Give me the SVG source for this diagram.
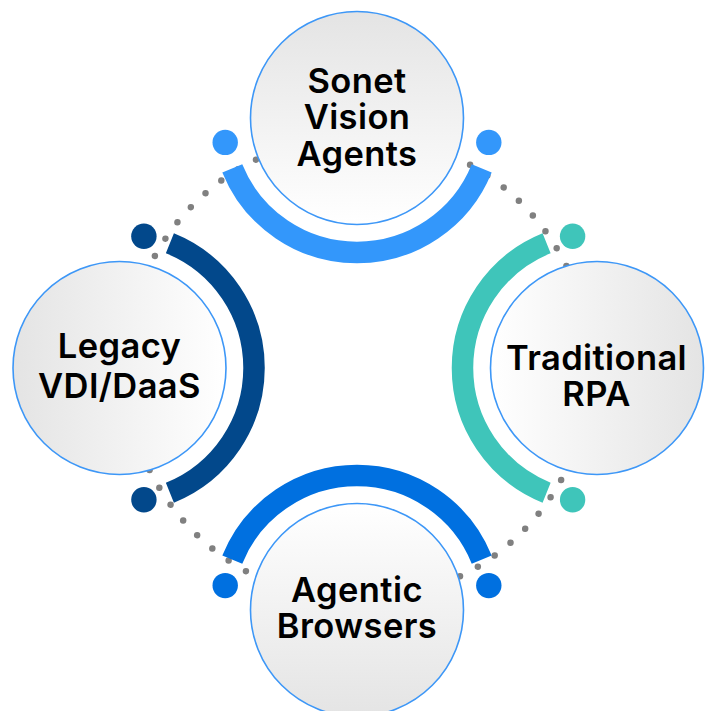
<svg xmlns="http://www.w3.org/2000/svg" width="711" height="711" viewBox="0 0 711 711">
  <defs>
    <!-- node fills: grey on the outer side, fading to white towards the middle -->
    <linearGradient id="fillTop" x1="0" y1="0" x2="0" y2="1">
      <stop offset="0" stop-color="#e4e4e4"/>
      <stop offset="1" stop-color="#ffffff"/>
    </linearGradient>
    <linearGradient id="fillBottom" x1="0" y1="1" x2="0" y2="0">
      <stop offset="0" stop-color="#e4e4e4"/>
      <stop offset="1" stop-color="#ffffff"/>
    </linearGradient>
    <linearGradient id="fillLeft" x1="0" y1="0" x2="1" y2="0">
      <stop offset="0" stop-color="#e4e4e4"/>
      <stop offset="1" stop-color="#ffffff"/>
    </linearGradient>
    <linearGradient id="fillRight" x1="1" y1="0" x2="0" y2="0">
      <stop offset="0" stop-color="#e4e4e4"/>
      <stop offset="1" stop-color="#ffffff"/>
    </linearGradient>
    <style>
      .node-circle { stroke: #3d97f7; stroke-width: 1.6; }
      .ring { fill: none; stroke-width: 21.5; stroke-linecap: butt; }
      .dotted { fill: none; stroke: #808080; stroke-width: 6.5; stroke-linecap: round; stroke-dasharray: 0 20; }
      .label { font-family: Inter, "Noto Sans", "Liberation Sans", sans-serif; font-weight: 600; font-size: 34.5px; letter-spacing: 0.4px; fill: #000; text-anchor: middle; }
      .c-sky { stroke: #3397fb; } .f-sky { fill: #3397fb; }
      .c-teal { stroke: #3fc5ba; } .f-teal { fill: #3fc5ba; }
      .c-navy { stroke: #02488b; } .f-navy { fill: #02488b; }
      .c-blue { stroke: #0070e0; } .f-blue { fill: #0070e0; }
    </style>
  </defs>

  <rect width="711" height="711" fill="#ffffff"/>

  <!-- dotted ring linking the four nodes -->
  <g id="connectors">
    <circle class="dotted" cx="358" cy="368" r="232" pathLength="1440" transform="rotate(3.9 358 368)"/>
  </g>

  <g id="node-sonet">
    <circle class="node-circle" cx="357" cy="118" r="106.5" fill="url(#fillTop)"/>
    <path class="ring c-sky" d="M481.71 168.39 A134.5 134.5 0 0 1 232.29 168.39"/>
    <circle class="f-sky" cx="488.8" cy="142.4" r="12.7"/>
    <circle class="f-sky" cx="225.2" cy="142.4" r="12.7"/>
    <text class="label" x="357" y="92.5">Sonet</text>
    <text class="label" x="357" y="129">Vision</text>
    <text class="label" x="357" y="165.5">Agents</text>
  </g>

  <g id="node-rpa">
    <circle class="node-circle" cx="597" cy="368" r="106.5" fill="url(#fillRight)"/>
    <path class="ring c-teal" d="M546.61 492.71 A134.5 134.5 0 0 1 546.61 243.29"/>
    <circle class="f-teal" cx="572.6" cy="499.8" r="12.7"/>
    <circle class="f-teal" cx="572.6" cy="236.2" r="12.7"/>
    <text class="label" x="596.5" y="370">Traditional</text>
    <text class="label" x="596.5" y="406">RPA</text>
  </g>

  <g id="node-legacy">
    <circle class="node-circle" cx="119.5" cy="368" r="106.5" fill="url(#fillLeft)"/>
    <path class="ring c-navy" d="M169.89 243.29 A134.5 134.5 0 0 1 169.89 492.71"/>
    <circle class="f-navy" cx="143.9" cy="236.2" r="12.7"/>
    <circle class="f-navy" cx="143.9" cy="499.8" r="12.7"/>
    <text class="label" x="119.5" y="358.3">Legacy</text>
    <text class="label" x="119.5" y="398.3">VDI/DaaS</text>
  </g>

  <g id="node-browsers">
    <circle class="node-circle" cx="357" cy="610" r="106.5" fill="url(#fillBottom)"/>
    <path class="ring c-blue" d="M232.29 559.61 A134.5 134.5 0 0 1 481.71 559.61"/>
    <circle class="f-blue" cx="225.2" cy="585.6" r="12.7"/>
    <circle class="f-blue" cx="488.8" cy="585.6" r="12.7"/>
    <text class="label" x="357" y="601.7">Agentic</text>
    <text class="label" x="357" y="638.3">Browsers</text>
  </g>
</svg>
